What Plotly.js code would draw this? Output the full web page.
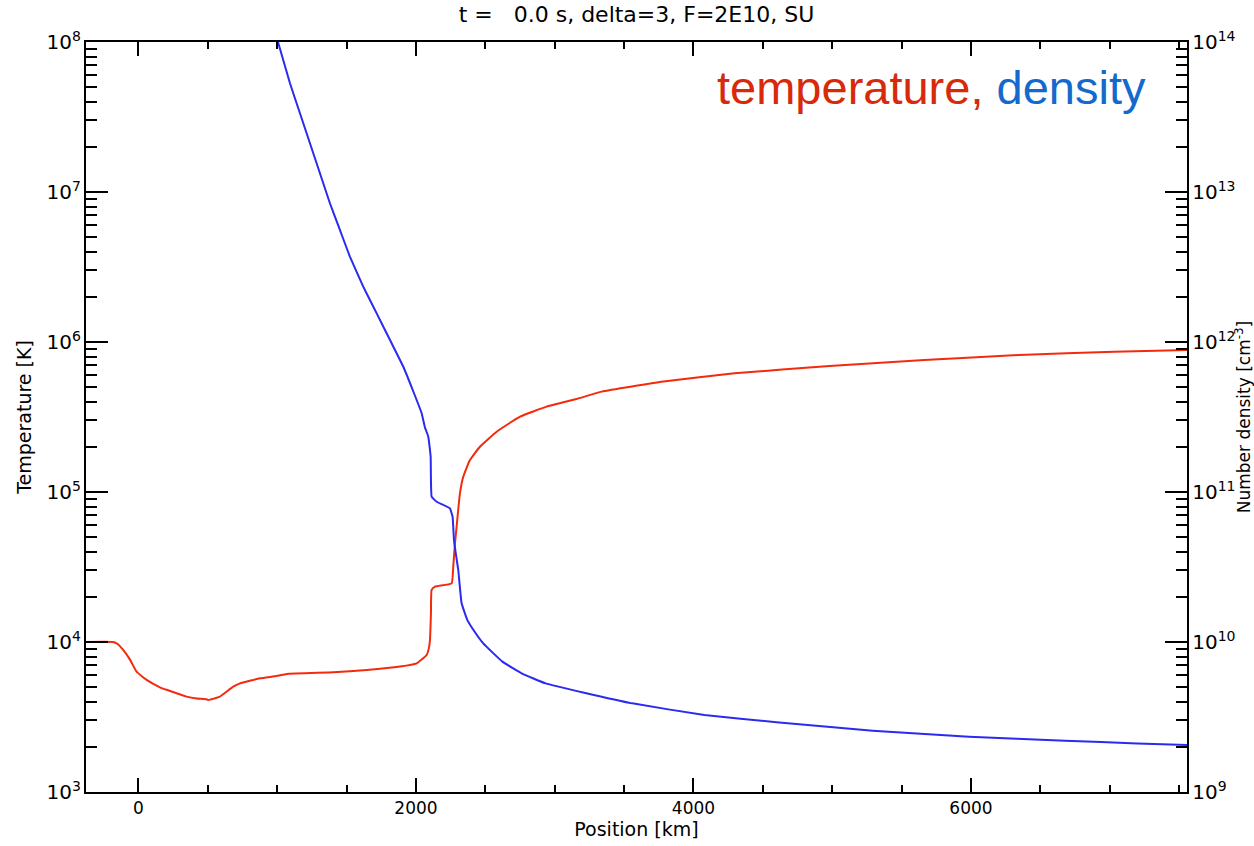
<!DOCTYPE html>
<html>
<head>
<meta charset="utf-8">
<script src="https://cdn.plot.ly/plotly-3.0.1.min.js"></script>
<style>
  html, body { margin: 0; padding: 0; background: #fff; }
  #chart { width: 1254px; height: 846px; }
</style>
</head>
<body>
<div id="chart"></div>
<script>
// Temperature profile (position in km, temperature in K)
const tempPosition = [-378, -184, -150, -110, -60, -13, 59, 155, 203, 347, 419, 491, 503, 587, 683, 732, 876, 996, 1068, 1404, 1645, 1885, 2005, 2077, 2092, 2101, 2108, 2113, 2137, 2257, 2268, 2280, 2293, 2317, 2341, 2389, 2461, 2582, 2750, 2942, 3158, 3339, 3784, 4296, 4980, 5664, 6348, 7032, 7557];
const temperature = [10000, 10000, 9700, 8850, 7600, 6339, 5585, 4989, 4800, 4325, 4200, 4150, 4102, 4325, 5035, 5297, 5728, 5929, 6124, 6281, 6501, 6855, 7211, 8185, 9000, 10304, 15500, 22233, 23388, 24604, 31000, 44000, 58749, 97949, 126474, 163305, 200447, 252348, 317687, 370681, 416869, 466659, 544503, 618016, 691831, 758578, 818465, 860994, 885116];

// Density profile (position in km, number density in cm^-3)
const densPosition = [990, 1092, 1164, 1236, 1308, 1380, 1452, 1524, 1620, 1717, 1813, 1909, 1981, 2041, 2065, 2089, 2106, 2113, 2149, 2245, 2264, 2274, 2294, 2305, 2329, 2370, 2399, 2485, 2623, 2762, 2935, 3212, 3559, 4079, 4598, 5292, 5985, 6678, 7198, 7557];
const density = [1.122e14, 5.309e13, 3.350e13, 2.113e13, 1.334e13, 8.414e12, 5.585e12, 3.707e12, 2.339e12, 1.552e12, 1.030e12, 6.839e11, 4.677e11, 3.350e11, 2.692e11, 2.339e11, 1.718e11, 9.311e10, 8.610e10, 7.780e10, 6.839e10, 4.786e10, 3.524e10, 3.020e10, 1.811e10, 1.403e10, 1.265e10, 9.795e9, 7.396e9, 6.180e9, 5.297e9, 4.592e9, 3.899e9, 3.258e9, 2.917e9, 2.564e9, 2.339e9, 2.198e9, 2.109e9, 2.056e9];

const xRange = [-378, 7557];
const tempRangeLog = [3, 8];
const densRangeLog = [9, 14];

const titleText = "t =\u00a0\u00a0\u00a00.0 s, delta=3, F=2E10, SU";
const xTitle = "Position [km]";
const yTitle = "Temperature [K]";
const y2Title = "Number density [cm<sup>-3</sup>]";

const FONT = "DejaVu Sans, sans-serif";

const traces = [
  {
    x: tempPosition, y: temperature, type: "scatter", mode: "lines",
    line: { color: "#f42a0c", width: 2, shape: "spline", smoothing: 0.4 }, yaxis: "y", name: "temperature",
    hoverinfo: "x+y"
  },
  {
    x: densPosition, y: density, type: "scatter", mode: "lines",
    line: { color: "#2a2af0", width: 2, shape: "spline", smoothing: 0.3 }, yaxis: "y2", name: "density",
    hoverinfo: "x+y"
  }
];

const logAxisCommon = {
  type: "log",
  dtick: 1,
  exponentformat: "power",
  ticks: "inside",
  ticklen: 22,
  tickwidth: 2,
  tickcolor: "#000",
  showline: true,
  linewidth: 2,
  linecolor: "#000",
  showgrid: false,
  zeroline: false,
  tickfont: { family: FONT, size: 16, color: "#000" },
  minor: { dtick: "D1", ticks: "inside", ticklen: 11, tickwidth: 2, tickcolor: "#000", showgrid: false }
};

const layout = {
  width: 1254,
  height: 846,
  margin: { l: 86, r: 67, t: 42, b: 54 },
  paper_bgcolor: "#fff",
  plot_bgcolor: "#fff",
  showlegend: false,
  font: { family: FONT, color: "#000" },
  title: {
    text: titleText,
    font: { family: FONT, size: 22, color: "#000" },
    x: 0.5, xref: "paper", xanchor: "center",
    y: 1, yref: "container", yanchor: "top", pad: { t: 7 }
  },
  xaxis: {
    range: xRange,
    tick0: 0,
    dtick: 2000,
    ticks: "inside",
    ticklen: 14,
    tickwidth: 2,
    tickcolor: "#000",
    showline: true,
    linewidth: 2,
    linecolor: "#000",
    mirror: "ticks",
    showgrid: false,
    zeroline: false,
    tickfont: { family: FONT, size: 17, color: "#000" },
    minor: { dtick: 500, ticks: "inside", ticklen: 7, tickwidth: 2, tickcolor: "#000", showgrid: false },
    title: { text: xTitle, font: { family: FONT, size: 19, color: "#000" }, standoff: 0 }
  },
  yaxis: Object.assign({}, logAxisCommon, {
    range: tempRangeLog,
    side: "left",
    title: { text: yTitle, font: { family: FONT, size: 19, color: "#000" }, standoff: 10 }
  }),
  yaxis2: Object.assign({}, logAxisCommon, {
    range: densRangeLog,
    side: "right",
    overlaying: "y",
    title: { text: y2Title, font: { family: FONT, size: 17, color: "#000" }, standoff: 4 }
  }),
  annotations: [
    {
      xref: "paper", yref: "paper",
      x: 0.9646, y: 0.9387,
      xanchor: "right", yanchor: "middle",
      showarrow: false,
      text: '<span style="color:#d8290b">temperature,</span> <span style="color:#1469cc">density</span>',
      font: { family: "Liberation Sans, Arial, sans-serif", size: 47 }
    }
  ]
};

Plotly.newPlot("chart", traces, layout, { displayModeBar: false, staticPlot: true });
</script>
</body>
</html>
